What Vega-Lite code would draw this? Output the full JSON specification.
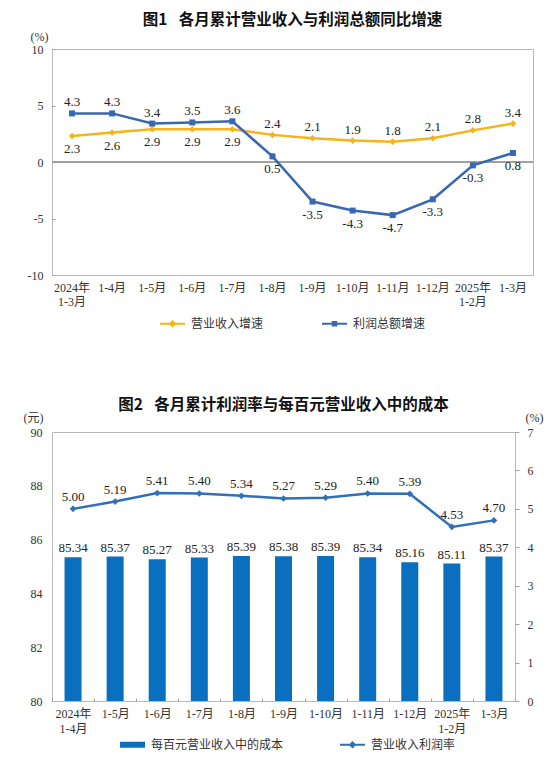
{
  "$schema": "https://vega.github.io/schema/vega-lite/v6.json",
  "background": "white",
  "padding": {"top": 12, "left": 22, "right": 0, "bottom": 0},
  "config": {
    "font": "Liberation Serif, Noto Sans CJK SC",
    "view": {"stroke": "#b8b8b8", "strokeWidth": 1},
    "axis": {
      "grid": false,
      "domainColor": "#b8b8b8",
      "tickColor": "#a0a0a0",
      "labelFont": "Liberation Serif, Noto Sans CJK SC",
      "labelFontSize": 12,
      "labelColor": "#333333",
      "titleFont": "Liberation Serif, Noto Sans CJK SC",
      "titleFontSize": 12,
      "titleFontWeight": "normal",
      "titleColor": "#333333"
    },
    "title": {"font": "Noto Sans CJK SC", "fontSize": 15.5, "fontWeight": "bold", "color": "#111111"},
    "legend": {"labelFont": "Noto Sans CJK SC", "labelFontSize": 12, "labelColor": "#333333"},
    "text": {"font": "Liberation Serif", "fontSize": 13, "color": "#222222"}
  },
  "spacing": 66,
  "resolve": {"scale": {"color": "independent"}},
  "vconcat": [
    {
      "title": {"text": "图1\u2002 各月累计营业收入与利润总额同比增速", "offset": 2},
      "width": 481,
      "height": 226,
      "data": {
        "values": [
          {"m": "2024年 1-3月", "s": "营业收入增速", "v": 2.3},
          {"m": "1-4月", "s": "营业收入增速", "v": 2.6},
          {"m": "1-5月", "s": "营业收入增速", "v": 2.9},
          {"m": "1-6月", "s": "营业收入增速", "v": 2.9},
          {"m": "1-7月", "s": "营业收入增速", "v": 2.9},
          {"m": "1-8月", "s": "营业收入增速", "v": 2.4},
          {"m": "1-9月", "s": "营业收入增速", "v": 2.1},
          {"m": "1-10月", "s": "营业收入增速", "v": 1.9},
          {"m": "1-11月", "s": "营业收入增速", "v": 1.8},
          {"m": "1-12月", "s": "营业收入增速", "v": 2.1},
          {"m": "2025年 1-2月", "s": "营业收入增速", "v": 2.8},
          {"m": "1-3月", "s": "营业收入增速", "v": 3.4},
          {"m": "2024年 1-3月", "s": "利润总额增速", "v": 4.3},
          {"m": "1-4月", "s": "利润总额增速", "v": 4.3},
          {"m": "1-5月", "s": "利润总额增速", "v": 3.4},
          {"m": "1-6月", "s": "利润总额增速", "v": 3.5},
          {"m": "1-7月", "s": "利润总额增速", "v": 3.6},
          {"m": "1-8月", "s": "利润总额增速", "v": 0.5},
          {"m": "1-9月", "s": "利润总额增速", "v": -3.5},
          {"m": "1-10月", "s": "利润总额增速", "v": -4.3},
          {"m": "1-11月", "s": "利润总额增速", "v": -4.7},
          {"m": "1-12月", "s": "利润总额增速", "v": -3.3},
          {"m": "2025年 1-2月", "s": "利润总额增速", "v": -0.3},
          {"m": "1-3月", "s": "利润总额增速", "v": 0.8}
        ]
      },
      "encoding": {
        "x": {"field": "m", "type": "nominal", "sort": null, "title": null,
              "scale": {"type": "band", "paddingInner": 0, "paddingOuter": 0},
              "axis": {"orient": "bottom", "domain": false, "ticks": false, "labelAngle": 0,
                       "labelPadding": 7, "labelBaseline": "top", "labelLineHeight": 14,
                       "labelExpr": "split(datum.label, ' ')"}},
        "y": {"field": "v", "type": "quantitative", "title": "(%)",
              "scale": {"domain": [-10, 10], "nice": false, "zero": false},
              "axis": {"values": [-10, -5, 0, 5, 10], "domain": false, "tickSize": -3,
                       "labelPadding": 12, "labelExpr": "datum.value + ''",
                       "titleAngle": 0, "titleX": -13, "titleY": -6,
                       "titleAlign": "center", "titleBaseline": "bottom"}},
        "color": {"field": "s", "type": "nominal", "title": null,
                  "scale": {"domain": ["营业收入增速", "利润总额增速"], "range": ["#F4B41A", "#3868B2"]},
                  "legend": {
                    "orient": "none", "legendX": 108, "legendY": 262, "direction": "horizontal",
                    "symbolSize": 625, "columnPadding": 58, "labelOffset": 6,
                    "encode": {"symbols": {"update": {
                      "shape": {"signal": "datum.value === '营业收入增速' ? 'M-1,-0.08H1V0.08H-1Z M0,-0.3L0.3,0L0,0.3L-0.3,0Z' : 'M-1,-0.08H1V0.08H-1Z M-0.22,-0.22H0.22V0.22H-0.22Z'"},
                      "fill": {"signal": "datum.value === '营业收入增速' ? '#F4B41A' : '#3868B2'"},
                      "stroke": {"value": "transparent"},
                      "strokeWidth": {"value": 0},
                      "opacity": {"value": 1}
                    }}}
                  }}
      },
      "layer": [
        {
          "mark": {"type": "rule", "color": "#a0a0a0", "strokeWidth": 1},
          "encoding": {"y": {"datum": 0}, "x": null, "color": null}
        },
        {
          "mark": {"type": "line", "strokeWidth": 2.5}
        },
        {
          "transform": [{"filter": "datum.s === '营业收入增速'"}],
          "mark": {"type": "point", "shape": "diamond", "filled": true, "size": 45, "opacity": 1}
        },
        {
          "transform": [{"filter": "datum.s === '利润总额增速'"}],
          "mark": {"type": "point", "shape": "square", "filled": true, "size": 36, "opacity": 1}
        },
        {
          "transform": [{"filter": "(datum.s === '营业收入增速') === (indexof(['2024年 1-3月','1-4月','1-5月','1-6月','1-7月'], datum.m) >= 0)"}],
          "mark": {"type": "text", "dy": 13, "baseline": "middle"},
          "encoding": {"text": {"field": "v", "type": "nominal"}, "color": {"value": "#222222"}}
        },
        {
          "transform": [{"filter": "(datum.s === '营业收入增速') !== (indexof(['2024年 1-3月','1-4月','1-5月','1-6月','1-7月'], datum.m) >= 0)"}],
          "mark": {"type": "text", "dy": -11, "baseline": "middle"},
          "encoding": {"text": {"field": "v", "type": "nominal"}, "color": {"value": "#222222"}}
        }
      ]
    },
    {
      "title": {"text": "图2\u2002 各月累计利润率与每百元营业收入中的成本", "offset": -2},
      "width": 463,
      "height": 269,
      "data": {
        "values": [
          {"m": "2024年 1-4月", "cost": 85.34, "rate": 5.00},
          {"m": "1-5月", "cost": 85.37, "rate": 5.19},
          {"m": "1-6月", "cost": 85.27, "rate": 5.41},
          {"m": "1-7月", "cost": 85.33, "rate": 5.40},
          {"m": "1-8月", "cost": 85.39, "rate": 5.34},
          {"m": "1-9月", "cost": 85.38, "rate": 5.27},
          {"m": "1-10月", "cost": 85.39, "rate": 5.29},
          {"m": "1-11月", "cost": 85.34, "rate": 5.40},
          {"m": "1-12月", "cost": 85.16, "rate": 5.39},
          {"m": "2025年 1-2月", "cost": 85.11, "rate": 4.53},
          {"m": "1-3月", "cost": 85.37, "rate": 4.70}
        ]
      },
      "encoding": {
        "x": {"field": "m", "type": "nominal", "sort": null, "title": null,
              "scale": {"type": "band", "paddingInner": 0, "paddingOuter": 0},
              "axis": {"orient": "bottom", "domain": false, "ticks": true, "tickBand": "extent", "tickSize": -3,
                       "labelAngle": 0, "labelPadding": 10, "labelBaseline": "top", "labelLineHeight": 15,
                       "labelExpr": "split(datum.label, ' ')"}}
      },
      "layer": [
        {
          "encoding": {
            "y": {"field": "cost", "type": "quantitative", "title": "(元)",
                  "scale": {"domain": [80, 90], "nice": false, "zero": false},
                  "axis": {"orient": "left", "values": [80, 82, 84, 86, 88, 90], "format": "d", "domain": false, "ticks": false,
                           "labelPadding": 10, "titleAngle": 0, "titleX": -19, "titleY": -8,
                           "titleAlign": "center", "titleBaseline": "bottom"}}
          },
          "layer": [
            {
              "mark": {"type": "bar", "width": 17},
              "encoding": {
                "y2": {"datum": 80},
                "color": {"datum": "每百元营业收入中的成本", "title": null,
                          "scale": {"domain": ["每百元营业收入中的成本", "营业收入利润率"], "range": ["#0B6FBF", "#3070B8"]},
                          "legend": {
                            "orient": "none", "legendX": 68, "legendY": 300, "direction": "horizontal",
                            "symbolSize": 625, "columnPadding": 56, "labelOffset": 6,
                            "encode": {"symbols": {"update": {
                              "shape": {"signal": "datum.value === '每百元营业收入中的成本' ? 'M-1,-0.24H1V0.24H-1Z' : 'M-1,-0.08H1V0.08H-1Z M0,-0.3L0.3,0L0,0.3L-0.3,0Z'"},
                              "fill": {"signal": "datum.value === '每百元营业收入中的成本' ? '#0B6FBF' : '#3070B8'"},
                              "stroke": {"value": "transparent"},
                              "strokeWidth": {"value": 0},
                              "opacity": {"value": 1}
                            }}}
                          }}
              }
            },
            {
              "mark": {"type": "text", "dy": -9, "baseline": "middle"},
              "encoding": {"text": {"field": "cost", "type": "quantitative", "format": ".2f"}}
            }
          ]
        },
        {
          "encoding": {
            "y": {"field": "rate", "type": "quantitative", "title": "(%)",
                  "scale": {"domain": [0, 7], "nice": false},
                  "axis": {"orient": "right", "values": [0, 1, 2, 3, 4, 5, 6, 7], "domain": false, "tickSize": 4,
                           "labelPadding": 8, "titleAngle": 0, "titleX": 19, "titleY": -8,
                           "titleAlign": "center", "titleBaseline": "bottom"}}
          },
          "layer": [
            {
              "mark": {"type": "line", "strokeWidth": 2.5},
              "encoding": {"color": {"datum": "营业收入利润率"}}
            },
            {
              "mark": {"type": "point", "shape": "diamond", "filled": true, "size": 45, "opacity": 1},
              "encoding": {"color": {"datum": "营业收入利润率"}}
            },
            {
              "mark": {"type": "text", "dy": -12, "baseline": "middle"},
              "encoding": {"text": {"field": "rate", "type": "quantitative", "format": ".2f"}}
            }
          ]
        }
      ],
      "resolve": {"scale": {"y": "independent"}}
    }
  ]
}
